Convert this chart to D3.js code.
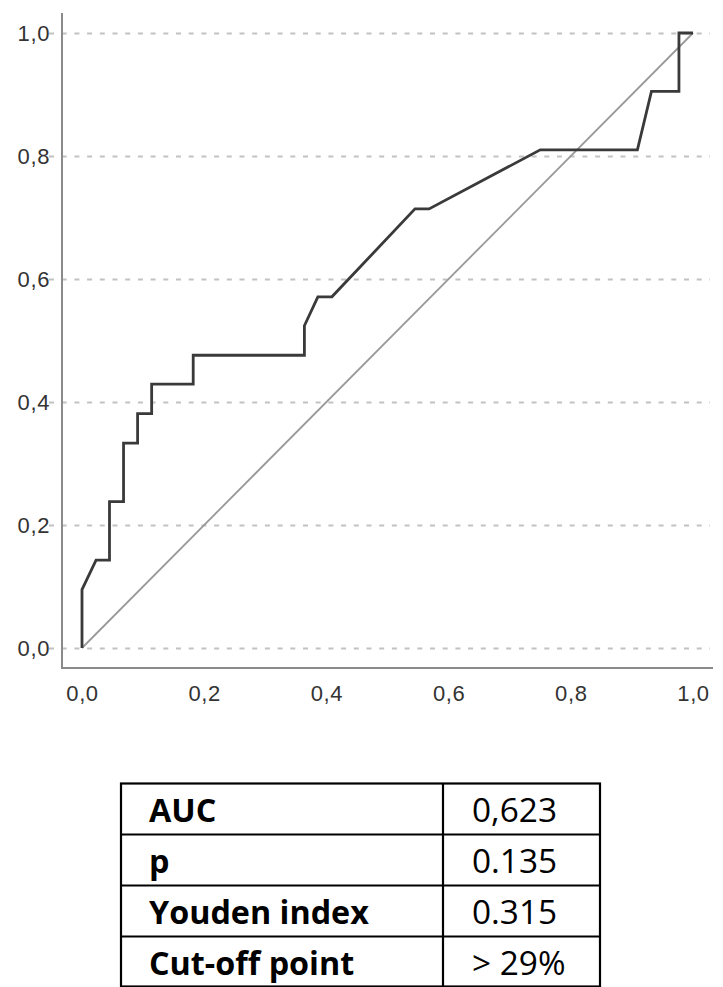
<!DOCTYPE html>
<html>
<head>
<meta charset="utf-8">
<script src="https://cdn.jsdelivr.net/npm/d3@7"></script>
<style>
  html, body { margin: 0; padding: 0; background: #fff; }
  svg { display: block; }
</style>
</head>
<body>
<svg id="chart" width="723" height="987"></svg>
<script>
// ROC curve (1 - specificity, sensitivity)
const fpr = [0, 0, 0.023, 0.045, 0.045, 0.068, 0.068, 0.091, 0.091, 0.114, 0.114, 0.182, 0.182, 0.364, 0.364, 0.386, 0.409, 0.545, 0.568, 0.750, 0.909, 0.932, 0.977, 0.977, 1];
const tpr = [0, 0.095, 0.143, 0.143, 0.238, 0.238, 0.333, 0.333, 0.381, 0.381, 0.429, 0.429, 0.476, 0.476, 0.524, 0.571, 0.571, 0.714, 0.714, 0.810, 0.810, 0.905, 0.905, 1, 1];
const refX = [0, 1];
const refY = [0, 1];
const tickValues = [0, 0.2, 0.4, 0.6, 0.8, 1.0];

const statLabels = ["AUC", "p", "Youden index", "Cut-off point"];
const statValues = ["0,623", "0.135", "0.315", "> 29%"];

const svg = d3.select("#chart");
const x = d3.scaleLinear().domain([0, 1]).range([82, 693]);
const y = d3.scaleLinear().domain([0, 1]).range([648, 33]);
const fmt = d => d3.format(".1f")(d).replace(".", ",");

// gridlines
const grid = svg.append("g").attr("transform", "translate(62,0)")
  .call(d3.axisLeft(y).tickValues(tickValues).tickSize(-648).tickFormat(""));
grid.select(".domain").remove();
grid.selectAll("line").attr("stroke", "#c2c2c2").attr("stroke-width", 2).attr("stroke-dasharray", "5,7.7")
  .attr("x1", -13);

// axis frame
svg.append("line").attr("x1", 62).attr("x2", 62).attr("y1", 13).attr("y2", 668.5)
  .attr("stroke", "#8a8a8a").attr("stroke-width", 2);
svg.append("line").attr("x1", 61).attr("x2", 713).attr("y1", 668).attr("y2", 668)
  .attr("stroke", "#8a8a8a").attr("stroke-width", 2);

const tickFont = "'Liberation Sans', Arial, sans-serif";
// y tick labels
const yAx = svg.append("g").attr("transform", "translate(62,0)")
  .call(d3.axisLeft(y).tickValues(tickValues).tickSize(0).tickPadding(12).tickFormat(fmt));
yAx.select(".domain").remove();
yAx.selectAll("text").attr("font-family", tickFont)
  .attr("font-size", 22).attr("letter-spacing", 0.6).attr("fill", "#333");

// x tick labels
const xAx = svg.append("g").attr("transform", "translate(0,668)")
  .call(d3.axisBottom(x).tickValues(tickValues).tickSize(0).tickPadding(17).tickFormat(fmt));
xAx.select(".domain").remove();
xAx.selectAll("text").attr("font-family", tickFont)
  .attr("font-size", 22).attr("letter-spacing", 0.6).attr("fill", "#333");

const line = d3.line().x(d => x(d[0])).y(d => y(d[1]));

// reference diagonal
svg.append("path").datum(d3.zip(refX, refY)).attr("d", line)
  .attr("fill", "none").attr("stroke", "#999").attr("stroke-width", 1.8);

// ROC curve
svg.append("path").datum(d3.zip(fpr, tpr)).attr("d", line)
  .attr("fill", "none").attr("stroke", "#3a3a3a").attr("stroke-width", 2.8)
  .attr("stroke-linejoin", "miter");

// statistics table
const tLeft = 121, tRight = 600, tDiv = 443, tTop = 783.5, rowH = 51;
const rowScale = d3.scaleBand().domain(statLabels).range([tTop, tTop + rowH * statLabels.length]);
const table = svg.append("g");
const fontT = "'Open Sans', 'Noto Sans', sans-serif";

const labels = table.selectAll("text.lab").data(statLabels).join("text")
  .attr("class", "lab")
  .attr("x", 149)
  .attr("y", d => rowScale(d) + 38.5)
  .attr("font-family", fontT).attr("font-weight", "bold").attr("font-size", 30)
  .attr("fill", "#000").text(d => d);
// fit label size so "Youden index" spans about 220px
const wLab = labels.filter(d => d === "Youden index").node().getComputedTextLength();
labels.attr("font-size", 30 * 220 / wLab);

const vals = table.selectAll("text.val").data(statValues).join("text")
  .attr("class", "val")
  .attr("x", 472)
  .attr("y", (d, i) => rowScale(statLabels[i]) + 38.5)
  .attr("font-family", fontT).attr("font-size", 30)
  .attr("fill", "#000").text(d => d);
const wVal = vals.filter(d => d === "0,623").node().getComputedTextLength();
vals.attr("font-size", 30 * 85 / wVal);

// table grid
const tBottom = tTop + rowH * statLabels.length;
table.append("rect").attr("x", tLeft).attr("y", tTop).attr("width", tRight - tLeft).attr("height", tBottom - tTop - 1)
  .attr("fill", "none").attr("stroke", "#000").attr("stroke-width", 2.2);
table.append("line").attr("x1", tDiv).attr("x2", tDiv).attr("y1", tTop).attr("y2", tBottom)
  .attr("stroke", "#000").attr("stroke-width", 2.2);
table.selectAll("line.row").data(statLabels.slice(1)).join("line").attr("class", "row")
  .attr("x1", tLeft).attr("x2", tRight)
  .attr("y1", d => rowScale(d)).attr("y2", d => rowScale(d))
  .attr("stroke", "#000").attr("stroke-width", 2.2);
</script>
</body>
</html>
